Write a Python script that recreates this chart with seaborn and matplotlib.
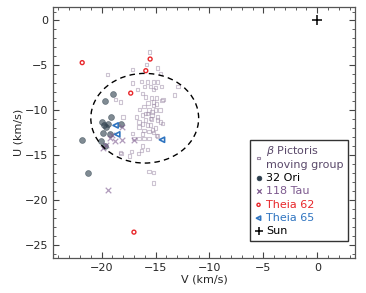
import numpy as np
import pandas as pd
import matplotlib
matplotlib.use("Agg")
import matplotlib.pyplot as plt
from matplotlib.patches import Ellipse
import seaborn as sns

sns.set_style("ticks")
plt.rcParams['font.family'] = ['DejaVu Sans']

# beta Pictoris moving group members (V, U) in km/s
bpic_v = [-15.56, -15.81, -14.84, -17.16, -19.47, -14.56, -17.16, -16.30, -15.77, -15.21,
          -14.79, -16.02, -15.46, -15.00, -14.42, -16.69, -15.16, -12.90, -13.24, -18.70,
          -18.24, -16.23, -15.93, -15.37, -14.91, -14.29, -15.16, -16.08, -15.62, -15.00,
          -15.93, -15.31, -14.84, -16.76, -18.03, -16.23, -16.55, -15.77, -14.54, -16.23,
          -15.77, -15.31, -16.55, -15.93, -15.46, -15.46, -14.84, -14.38, -17.16, -16.08,
          -15.62, -16.23, -15.16, -14.79, -17.01, -16.55, -16.08, -15.62, -16.23, -15.77,
          -16.32, -18.24, -17.41, -15.62, -15.16, -15.21, -15.20, -14.90, -15.40, -15.00,
          -15.30, -14.60, -15.70, -16.50, -14.40, -14.90, -16.60, -17.20, -18.20]
bpic_u = [-3.52, -4.89, -5.30, -5.44, -6.00, -5.92, -6.97, -6.78, -6.86, -6.86,
          -6.86, -7.33, -7.33, -7.48, -7.33, -7.70, -7.70, -7.33, -8.33, -8.81,
          -9.08, -8.14, -8.52, -8.63, -8.63, -8.81, -9.08, -9.56, -10.00, -10.00,
          -10.37, -10.56, -10.74, -10.74, -10.74, -11.56, -11.86, -11.67, -11.30, -10.56,
          -10.37, -10.19, -11.30, -11.11, -10.92, -11.67, -11.11, -11.48, -12.59, -12.30,
          -12.41, -12.67, -12.52, -12.89, -13.14, -13.14, -13.14, -13.14, -14.00, -14.37,
          -14.52, -14.74, -15.11, -16.86, -16.92, -18.14, -9.50, -9.30, -11.00, -12.00,
          -12.20, -10.00, -9.20, -9.90, -8.90, -12.80, -14.80, -14.60, -14.80]

# 32 Ori group
ori_v = [-18.9, -19.7, -19.1, -20.0, -19.8, -19.4, -18.2, -19.9, -19.2, -21.8, -20.1, -19.7, -21.3, -19.6]
ori_u = [-8.2, -9.0, -10.8, -11.3, -11.6, -11.5, -11.5, -12.5, -12.7, -13.3, -13.4, -14.0, -17.0, -11.9]

# 118 Tau
tau_v = [-18.1, -19.0, -19.2, -18.8, -18.1, -17.0, -19.6, -19.4, -19.9]
tau_u = [-11.9, -12.8, -13.1, -13.4, -13.3, -13.3, -13.9, -18.9, -14.2]

# Theia 62
t62_v = [-21.8, -15.5, -15.9, -17.3, -17.0]
t62_u = [-4.7, -4.3, -5.6, -8.1, -23.6]

# Theia 65
t65_v = [-18.7, -18.55, -14.4]
t65_u = [-11.7, -12.7, -13.3]

sun_v = [0.0]
sun_u = [0.0]

bpic_col = '#9c8aa6'
ori_col = '#2c3e4c'
tau_col = '#7d5a8f'
t62_col = '#e8262a'
t65_col = '#2f74c0'

fig = plt.figure(figsize=(3.66, 2.93), dpi=100)
ax = fig.add_axes([0.145, 0.119, 0.825, 0.857])

sns.scatterplot(x=bpic_v, y=bpic_u, ax=ax, marker='s', s=6, facecolor='none',
                edgecolor=bpic_col, linewidth=0.8, alpha=0.5,
                label=r'$\beta$ Pictoris' + '\nmoving group')
sns.scatterplot(x=ori_v, y=ori_u, ax=ax, marker='o', s=18, color=ori_col,
                edgecolor=ori_col, linewidth=0.5, alpha=0.6, label='32 Ori')
sns.scatterplot(x=tau_v, y=tau_u, ax=ax, marker='x', s=16, color=tau_col,
                linewidth=0.9, alpha=0.6, label='118 Tau')
sns.scatterplot(x=t62_v, y=t62_u, ax=ax, marker='o', s=8, facecolor='none',
                edgecolor=t62_col, linewidth=1.0, label='Theia 62')
sns.scatterplot(x=t65_v, y=t65_u, ax=ax, marker='<', s=14, facecolor='none',
                edgecolor=t65_col, linewidth=1.2, label='Theia 65')
sns.scatterplot(x=sun_v, y=sun_u, ax=ax, marker='+', s=50, color='black',
                linewidth=1.1, label='Sun')

ax.add_patch(Ellipse((-16.0, -10.9), 10.0, 10.0, fill=False, edgecolor='black',
                     linestyle=(0, (4, 3)), linewidth=1.0))

ax.set_xlim(-24.5, 3.5)
ax.set_ylim(-26.5, 1.5)
ax.set_xticks([-20, -15, -10, -5, 0])
ax.set_yticks([0, -5, -10, -15, -20, -25])
ax.set_xticks(np.arange(-24, 4, 1), minor=True)
ax.set_yticks(np.arange(-26, 2, 1), minor=True)
ax.tick_params(which='both', direction='in', top=True, right=True, labelsize=8, color='#444444')
ax.tick_params(which='major', length=4, width=0.8)
ax.tick_params(which='minor', length=2, width=0.6)
for sp in ax.spines.values():
    sp.set_color('#555555')
    sp.set_linewidth(0.9)
ax.set_xlabel('V (km/s)', fontsize=8, labelpad=1)
ax.set_ylabel('U (km/s)', fontsize=8, labelpad=1)

leg = ax.legend(loc='lower right', bbox_to_anchor=(0.985, 0.06), fontsize=8,
                frameon=True, fancybox=False, handletextpad=0.3, handlelength=0.8,
                borderpad=0.4, labelspacing=0.3, borderaxespad=0.2, markerscale=0.8)
leg.get_frame().set_edgecolor('black')
leg.get_frame().set_linewidth(1.0)
text_cols = ['#5b4a6b', 'black', tau_col, t62_col, t65_col, 'black']
for t, c in zip(leg.get_texts(), text_cols):
    t.set_color(c)
for h in leg.legend_handles:
    h.set_alpha(1)

fig.savefig('out.png', dpi=100)
